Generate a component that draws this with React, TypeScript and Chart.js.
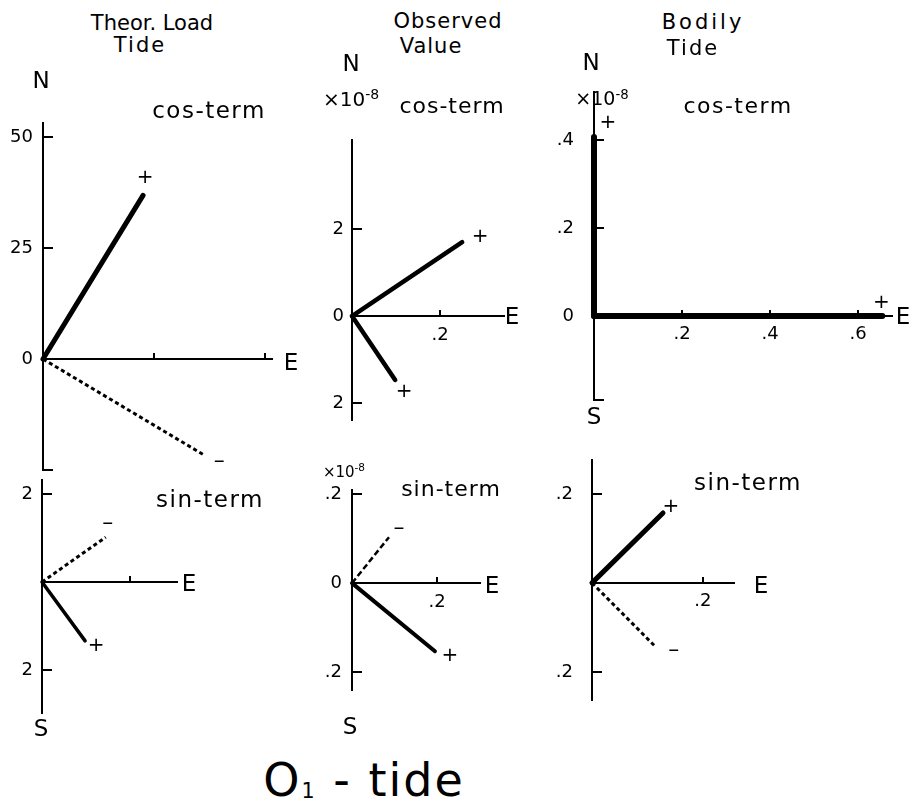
import React, { useEffect, useRef } from 'react';
import { Chart, registerables } from 'chart.js';

Chart.register(...registerables);

const FONT = "'DejaVu Sans', 'Liberation Sans', sans-serif";

// ---- vector data: E and N components of each plotted vector ----
// Theor. Load Tide, cos-term
const loadCosE = [22.5, 36.5];
const loadCosN = [36.9, -21.8];
const loadCosSign = ['+', '–'];
// Theor. Load Tide, sin-term
const loadSinE = [1.45, 0.98];
const loadSinN = [1.02, -1.34];
const loadSinSign = ['–', '+'];
// Observed Value, cos-term (x10^-8)
const obsCosE = [0.25, 0.098];
const obsCosN = [1.7, -1.47];
const obsCosSign = ['+', '+'];
// Observed Value, sin-term (x10^-8)
const obsSinE = [0.087, 0.195];
const obsSinN = [0.103, -0.153];
const obsSinSign = ['–', '+'];
// Bodily Tide, cos-term (x10^-8)
const bodyCosE = [0, 0.655];
const bodyCosN = [0.407, 0];
const bodyCosSign = ['+', '+'];
// Bodily Tide, sin-term
const bodySinE = [0.128, 0.115];
const bodySinN = [0.157, -0.144];
const bodySinSign = ['+', '–'];

// ---- ticks ----
const loadCosYTicks = [-25, 0, 25, 50];
const loadCosYLabels = ['', '0', '25', '50'];
const loadCosXTicks = [25, 50];
const loadCosXLabels = ['', ''];
const loadSinYTicks = [-2, 2];
const loadSinYLabels = ['2', '2'];
const loadSinXTicks = [2];
const loadSinXLabels = [''];
const obsCosYTicks = [-2, 0, 2];
const obsCosYLabels = ['2', '0', '2'];
const obsCosXTicks = [0.2];
const obsCosXLabels = ['.2'];
const obsSinYTicks = [-0.2, 0, 0.2];
const obsSinYLabels = ['.2', '0', '.2'];
const obsSinXTicks = [0.2];
const obsSinXLabels = ['.2'];
const bodyCosYTicks = [-0.19, 0, 0.2, 0.4];
const bodyCosYLabels = ['', '0', '.2', '.4'];
const bodyCosXTicks = [0.2, 0.4, 0.6];
const bodyCosXLabels = ['.2', '.4', '.6'];
const bodySinYTicks = [-0.2, 0.2];
const bodySinYLabels = ['.2', '.2'];
const bodySinXTicks = [0.2];
const bodySinXLabels = ['.2'];

// ---- axis extents ----
const loadCosXRange = [0, 51.5];
const loadCosYRange = [-25, 53.2];
const loadSinXRange = [0, 3.07];
const loadSinYRange = [-2.98, 2.32];
const obsCosXRange = [0, 0.345];
const obsCosYRange = [-2.39, 4.05];
const obsSinXRange = [0, 0.301];
const obsSinYRange = [-0.24, 0.209];
const bodyCosXRange = [0, 0.677];
const bodyCosYRange = [-0.191, 0.509];
const bodySinXRange = [0, 0.256];
const bodySinYRange = [-0.263, 0.276];

type Panel = {
  ox: number; oy: number; ppuX: number; ppuY: number;
  xr: number[]; yr: number[];
  e: number[]; n: number[]; signs: string[];
  xTicks: number[]; xLabels: string[]; yTicks: number[]; yLabels: string[];
  widths: number[]; dashed: boolean[]; dash: number[];
  offs: number[][]; yGap: number;
};

const panels: Panel[] = [
  { ox: 43, oy: 359, ppuX: 4.44, ppuY: 4.44, xr: loadCosXRange, yr: loadCosYRange,
    e: loadCosE, n: loadCosN, signs: loadCosSign,
    xTicks: loadCosXTicks, xLabels: loadCosXLabels, yTicks: loadCosYTicks, yLabels: loadCosYLabels,
    widths: [5, 3], dashed: [false, true], dash: [4, 3], offs: [[2, -18], [14, 5]], yGap: 10 },
  { ox: 42, oy: 582, ppuX: 44, ppuY: 44, xr: loadSinXRange, yr: loadSinYRange,
    e: loadSinE, n: loadSinN, signs: loadSinSign,
    xTicks: loadSinXTicks, xLabels: loadSinXLabels, yTicks: loadSinYTicks, yLabels: loadSinYLabels,
    widths: [3, 3.5], dashed: [true, false], dash: [4, 3], offs: [[2, -14], [11, 5]], yGap: 9 },
  { ox: 352, oy: 316, ppuX: 440, ppuY: 43.5, xr: obsCosXRange, yr: obsCosYRange,
    e: obsCosE, n: obsCosN, signs: obsCosSign,
    xTicks: obsCosXTicks, xLabels: obsCosXLabels, yTicks: obsCosYTicks, yLabels: obsCosYLabels,
    widths: [4.5, 4.5], dashed: [false, false], dash: [4, 3], offs: [[18, -5], [9, 12]], yGap: 8 },
  { ox: 352, oy: 583, ppuX: 425, ppuY: 445, xr: obsSinXRange, yr: obsSinYRange,
    e: obsSinE, n: obsSinN, signs: obsSinSign,
    xTicks: obsSinXTicks, xLabels: obsSinXLabels, yTicks: obsSinYTicks, yLabels: obsSinYLabels,
    widths: [2.5, 4], dashed: [true, false], dash: [6, 3], offs: [[10, -9], [15, 5]], yGap: 10 },
  { ox: 594, oy: 316, ppuX: 440, ppuY: 440, xr: bodyCosXRange, yr: bodyCosYRange,
    e: bodyCosE, n: bodyCosN, signs: bodyCosSign,
    xTicks: bodyCosXTicks, xLabels: bodyCosXLabels, yTicks: bodyCosYTicks, yLabels: bodyCosYLabels,
    widths: [6, 6], dashed: [false, false], dash: [4, 3], offs: [[14, -14], [-1, -13]], yGap: 20 },
  { ox: 592, oy: 583, ppuX: 555, ppuY: 445, xr: bodySinXRange, yr: bodySinYRange,
    e: bodySinE, n: bodySinN, signs: bodySinSign,
    xTicks: bodySinXTicks, xLabels: bodySinXLabels, yTicks: bodySinYTicks, yLabels: bodySinYLabels,
    widths: [5, 3], dashed: [false, true], dash: [4, 3], offs: [[8, -6], [18, 3]], yGap: 19 },
];

const PAD = 50;
const Y_TICK = 11;
const X_TICK = 7;

const signPlugin = {
  id: 'vectorSigns',
  afterDatasetsDraw(chart: any) {
    const ctx = chart.ctx;
    ctx.save();
    ctx.fillStyle = '#000';
    ctx.textAlign = 'center';
    ctx.textBaseline = 'middle';
    chart.data.datasets.forEach((ds: any, i: number) => {
      const meta = chart.getDatasetMeta(i);
      const pt = meta.data[meta.data.length - 1];
      if (!pt) return;
      ctx.font = (ds.sign === '+' ? '20px ' : '22px ') + FONT;
      ctx.fillText(ds.sign, pt.x + ds.signOffset[0], pt.y + ds.signOffset[1]);
    });
    ctx.restore();
  },
};

function PanelChart({ p }: { p: Panel }) {
  const ref = useRef<HTMLCanvasElement>(null);
  const w = p.xr[1] * p.ppuX;
  const h = (p.yr[1] - p.yr[0]) * p.ppuY;
  const left = Math.round(p.ox - PAD);
  const top = Math.round(p.oy - p.yr[1] * p.ppuY - PAD);
  const W = Math.round(w + 2 * PAD);
  const H = Math.round(h + 2 * PAD);

  useEffect(() => {
    const tickFont = { family: FONT, size: 18 };
    // places the vertical-axis tick labels a fixed gap to the left of the axis line
    const yLabelGap = {
      id: 'yLabelGap',
      beforeDraw(chart: any) {
        const ys = chart.scales.y;
        const xPix = chart.scales.x.getPixelForValue(0);
        const items = ys.getLabelItems();
        items.forEach((it: any) => {
          it.options.translation[0] = xPix - p.yGap;
          it.options.textAlign = 'right';
        });
      },
    };
    const chart = new Chart(ref.current as HTMLCanvasElement, {
      type: 'scatter',
      data: {
        datasets: p.e.map((e, i) => ({
          data: [{ x: 0, y: 0 }, { x: e, y: p.n[i] }],
          borderColor: '#000',
          backgroundColor: '#000',
          borderWidth: p.widths[i],
          borderDash: p.dashed[i] ? p.dash : [],
          borderCapStyle: p.dashed[i] ? 'butt' : 'round',
          pointRadius: 0,
          showLine: true,
          fill: false,
          clip: false,
          sign: p.signs[i],
          signOffset: p.offs[i],
        })) as any,
      },
      options: {
        animation: false,
        responsive: false,
        maintainAspectRatio: false,
        layout: { padding: PAD },
        plugins: { legend: { display: false }, tooltip: { enabled: false }, title: { display: false } },
        events: [],
        scales: {
          x: {
            type: 'linear',
            min: p.xr[0],
            max: p.xr[1],
            position: { y: 0 } as any,
            afterFit: (s: any) => { s.height = 0; },
            afterBuildTicks: (s: any) => { s.ticks = p.xTicks.map((v) => ({ value: v })); },
            ticks: {
              callback: (_v: any, i: number) => p.xLabels[i] ?? '',
              font: tickFont, color: '#000', padding: X_TICK + 8,
              autoSkip: false, maxRotation: 0, minRotation: 0,
            },
            grid: { display: true, drawOnChartArea: false, drawTicks: true, tickLength: -X_TICK, color: '#000', lineWidth: 2 },
            border: { display: true, color: '#000', width: 2 },
          },
          y: {
            type: 'linear',
            min: p.yr[0],
            max: p.yr[1],
            position: { x: 0 } as any,
            afterFit: (s: any) => { s.width = 0; },
            afterBuildTicks: (s: any) => { s.ticks = p.yTicks.map((v) => ({ value: v })); },
            ticks: {
              callback: (_v: any, i: number) => p.yLabels[i] ?? '',
              font: tickFont, color: '#000', padding: 0,
              autoSkip: false,
            },
            grid: { display: true, drawOnChartArea: false, drawTicks: true, tickLength: -Y_TICK, color: '#000', lineWidth: 2 },
            border: { display: true, color: '#000', width: 2 },
          },
        },
      } as any,
      plugins: [signPlugin, yLabelGap],
    });
    return () => chart.destroy();
  }, []);

  return (
    <canvas
      ref={ref}
      width={W}
      height={H}
      style={{ position: 'absolute', left, top, width: W, height: H }}
    />
  );
}

function T({ x, y, size, children, sp = 0 }: { x: number; y: number; size: number; children: any; sp?: number }) {
  return (
    <div
      style={{
        position: 'absolute', left: x, top: y, transform: 'translate(-50%, -50%)',
        fontFamily: FONT, fontSize: size, lineHeight: 1, whiteSpace: 'nowrap',
        letterSpacing: sp, color: '#000',
      }}
    >
      {children}
    </div>
  );
}

const sup = { fontSize: '0.7em', verticalAlign: '0.5em' };

export default function App() {
  return (
    <div style={{ position: 'absolute', left: 0, top: 0, width: 916, height: 803, overflow: 'hidden', background: '#fff' }}>
      {panels.map((p, i) => <PanelChart key={i} p={p} />)}

      {/* column titles */}
      <T x={152} y={23} size={21}>Theor. Load</T>
      <T x={140} y={45} size={21} sp={2}>Tide</T>
      <T x={448} y={21} size={21} sp={1}>Observed</T>
      <T x={431} y={46} size={21} sp={1}>Value</T>
      <T x={703} y={22} size={21} sp={3}>Bodily</T>
      <T x={693} y={48} size={21} sp={2}>Tide</T>

      {/* N labels */}
      <T x={41} y={80} size={23}>N</T>
      <T x={351} y={63} size={23}>N</T>
      <T x={591} y={62} size={23}>N</T>

      {/* term labels */}
      <T x={209} y={110} size={23} sp={1.5}>cos-term</T>
      <T x={452} y={106} size={22} sp={1}>cos-term</T>
      <T x={738} y={106} size={22} sp={1.5}>cos-term</T>
      <T x={210} y={499} size={23} sp={1.5}>sin-term</T>
      <T x={451} y={489} size={22} sp={1}>sin-term</T>
      <T x={748} y={482} size={23} sp={1.5}>sin-term</T>

      {/* scale factors */}
      <T x={351} y={98} size={20}>×10<span style={sup}>-8</span></T>
      <T x={602} y={98} size={19}>×10<span style={sup}>-8</span></T>
      <T x={344} y={471} size={15}>×10<span style={sup}>-8</span></T>

      {/* E labels */}
      <T x={291} y={362} size={23}>E</T>
      <T x={189} y={583} size={23}>E</T>
      <T x={512} y={316} size={23}>E</T>
      <T x={492} y={585} size={23}>E</T>
      <T x={903} y={316} size={23}>E</T>
      <T x={761} y={585} size={23}>E</T>

      {/* S labels */}
      <T x={41} y={728} size={23}>S</T>
      <T x={350} y={726} size={23}>S</T>
      <T x={594} y={416} size={23}>S</T>

      <T x={364} y={780} size={46} sp={2}>
        O<span style={{ fontSize: '0.45em', verticalAlign: '-0.1em' }}>1</span> - tide
      </T>
    </div>
  );
}
